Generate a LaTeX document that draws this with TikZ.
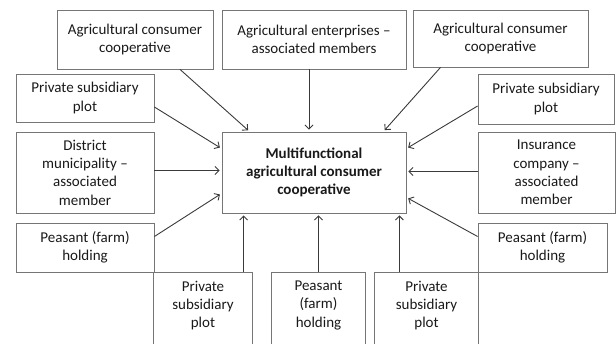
\documentclass[tikz,border=0pt]{standalone}
\usepackage{fontspec}
\setmainfont{Carlito}
\usetikzlibrary{arrows.meta}
\definecolor{boxgray}{RGB}{118,118,118}
\definecolor{arrowgray}{RGB}{58,58,58}
\definecolor{textgray}{RGB}{25,25,25}

\begin{document}
\begin{tikzpicture}[x=1pt, y=-1pt, >={Straight Barb[length=4pt, width=8pt]},
    box/.style={draw=boxgray, line width=0.8pt, align=center, text=textgray,
        font=\fontsize{15}{18.3}\selectfont, inner sep=0pt},
    openbox/.style={box, draw=none, anchor=north},
    arr/.style={draw=arrowgray, line width=0.9pt, ->, shorten >=2pt}]
    \useasboundingbox (0,0) rectangle (616,343);
    \clip (0,0) rectangle (616,343);

    % Centre
    \node[box, minimum width=184pt, minimum height=81pt,
        font=\fontsize{15}{18.3}\selectfont\bfseries] (cen) at (314,172.5)
        {Multifunctional\\agricultural consumer\\cooperative};

    % Top row
    \node[box, minimum width=156pt, minimum height=59pt] (tl) at (135,39.5) {Agricultural consumer\\cooperative};
    \node[box, minimum width=184pt, minimum height=59pt] (tm) at (314,39.5) {Agricultural enterprises --\\associated members};
    \node[box, minimum width=175pt, minimum height=57pt] (tr) at (500.5,38.5) {Agricultural consumer\\cooperative};

    % Left column
    \node[box, minimum width=138pt, minimum height=48pt] (lp) at (85,98) {Private subsidiary\\plot};
    \node[box, minimum width=138pt, minimum height=81pt] (ld) at (85,172.5) {District\\municipality --\\associated\\member};
    \node[box, minimum width=138pt, minimum height=49pt] (lf) at (85,247.5) {Peasant (farm)\\holding};

    % Right column
    \node[box, minimum width=136pt, minimum height=50pt] (rp) at (546,99) {Private subsidiary\\plot};
    \node[box, minimum width=137pt, minimum height=81pt] (ri) at (546.5,172.5) {Insurance\\company --\\associated\\member};
    \node[box, minimum width=129pt, minimum height=49pt] (rf) at (542.5,247.5) {Peasant (farm)\\holding};

    % Bottom row (cut off by the page edge)
    \node[openbox, minimum width=98pt, minimum height=66pt] (bl) at (203,272) {Private\\subsidiary\\plot};
    \node[openbox, minimum width=93pt, minimum height=66pt] (bm) at (318.5,272) {Peasant\\(farm)\\holding};
    \node[openbox, minimum width=103pt, minimum height=66pt] (br) at (426.5,272) {Private\\subsidiary\\plot};
    \foreach \b in {bl, bm, br}
        \draw[boxgray, line width=0.8pt] ([yshift=-20pt]\b.south west) -- (\b.north west)
            -- (\b.north east) -- ([yshift=-20pt]\b.south east);

    % Arrows into the centre
    \draw[arr] ([xshift=45pt]tl.south) -- ([xshift=28pt]cen.north west);
    \draw[arr] ([xshift=-5pt]tm.south) -- ([xshift=-5pt]cen.north);
    \draw[arr] ([xshift=-60pt]tr.south) -- ([xshift=-23pt]cen.north east);
    \draw[arr] ([yshift=-9pt]lp.east) -- ([yshift=-17pt]cen.north west);
    \draw[arr] ([yshift=-7pt]rp.west) -- ([yshift=-17pt]cen.north east);
    \draw[arr] ([yshift=2pt]ld.east) -- ([yshift=2pt]cen.west);
    \draw[arr] ([yshift=1pt]ri.west) -- ([yshift=1pt]cen.east);
    \draw[arr] ([yshift=11pt]lf.east) -- ([yshift=20pt]cen.south west);
    \draw[arr] ([yshift=11pt]rf.west) -- ([yshift=16pt]cen.south east);

    \coordinate (b1) at ([xshift=22pt]cen.south west);
    \coordinate (b3) at ([xshift=-7pt]cen.south east);
    \draw[arr] (b1 |- bl.north) -- (b1);
    \draw[arr] (bm.north) -- (bm.north |- cen.south);
    \draw[arr] (b3 |- br.north) -- (b3);
\end{tikzpicture}
\end{document}
